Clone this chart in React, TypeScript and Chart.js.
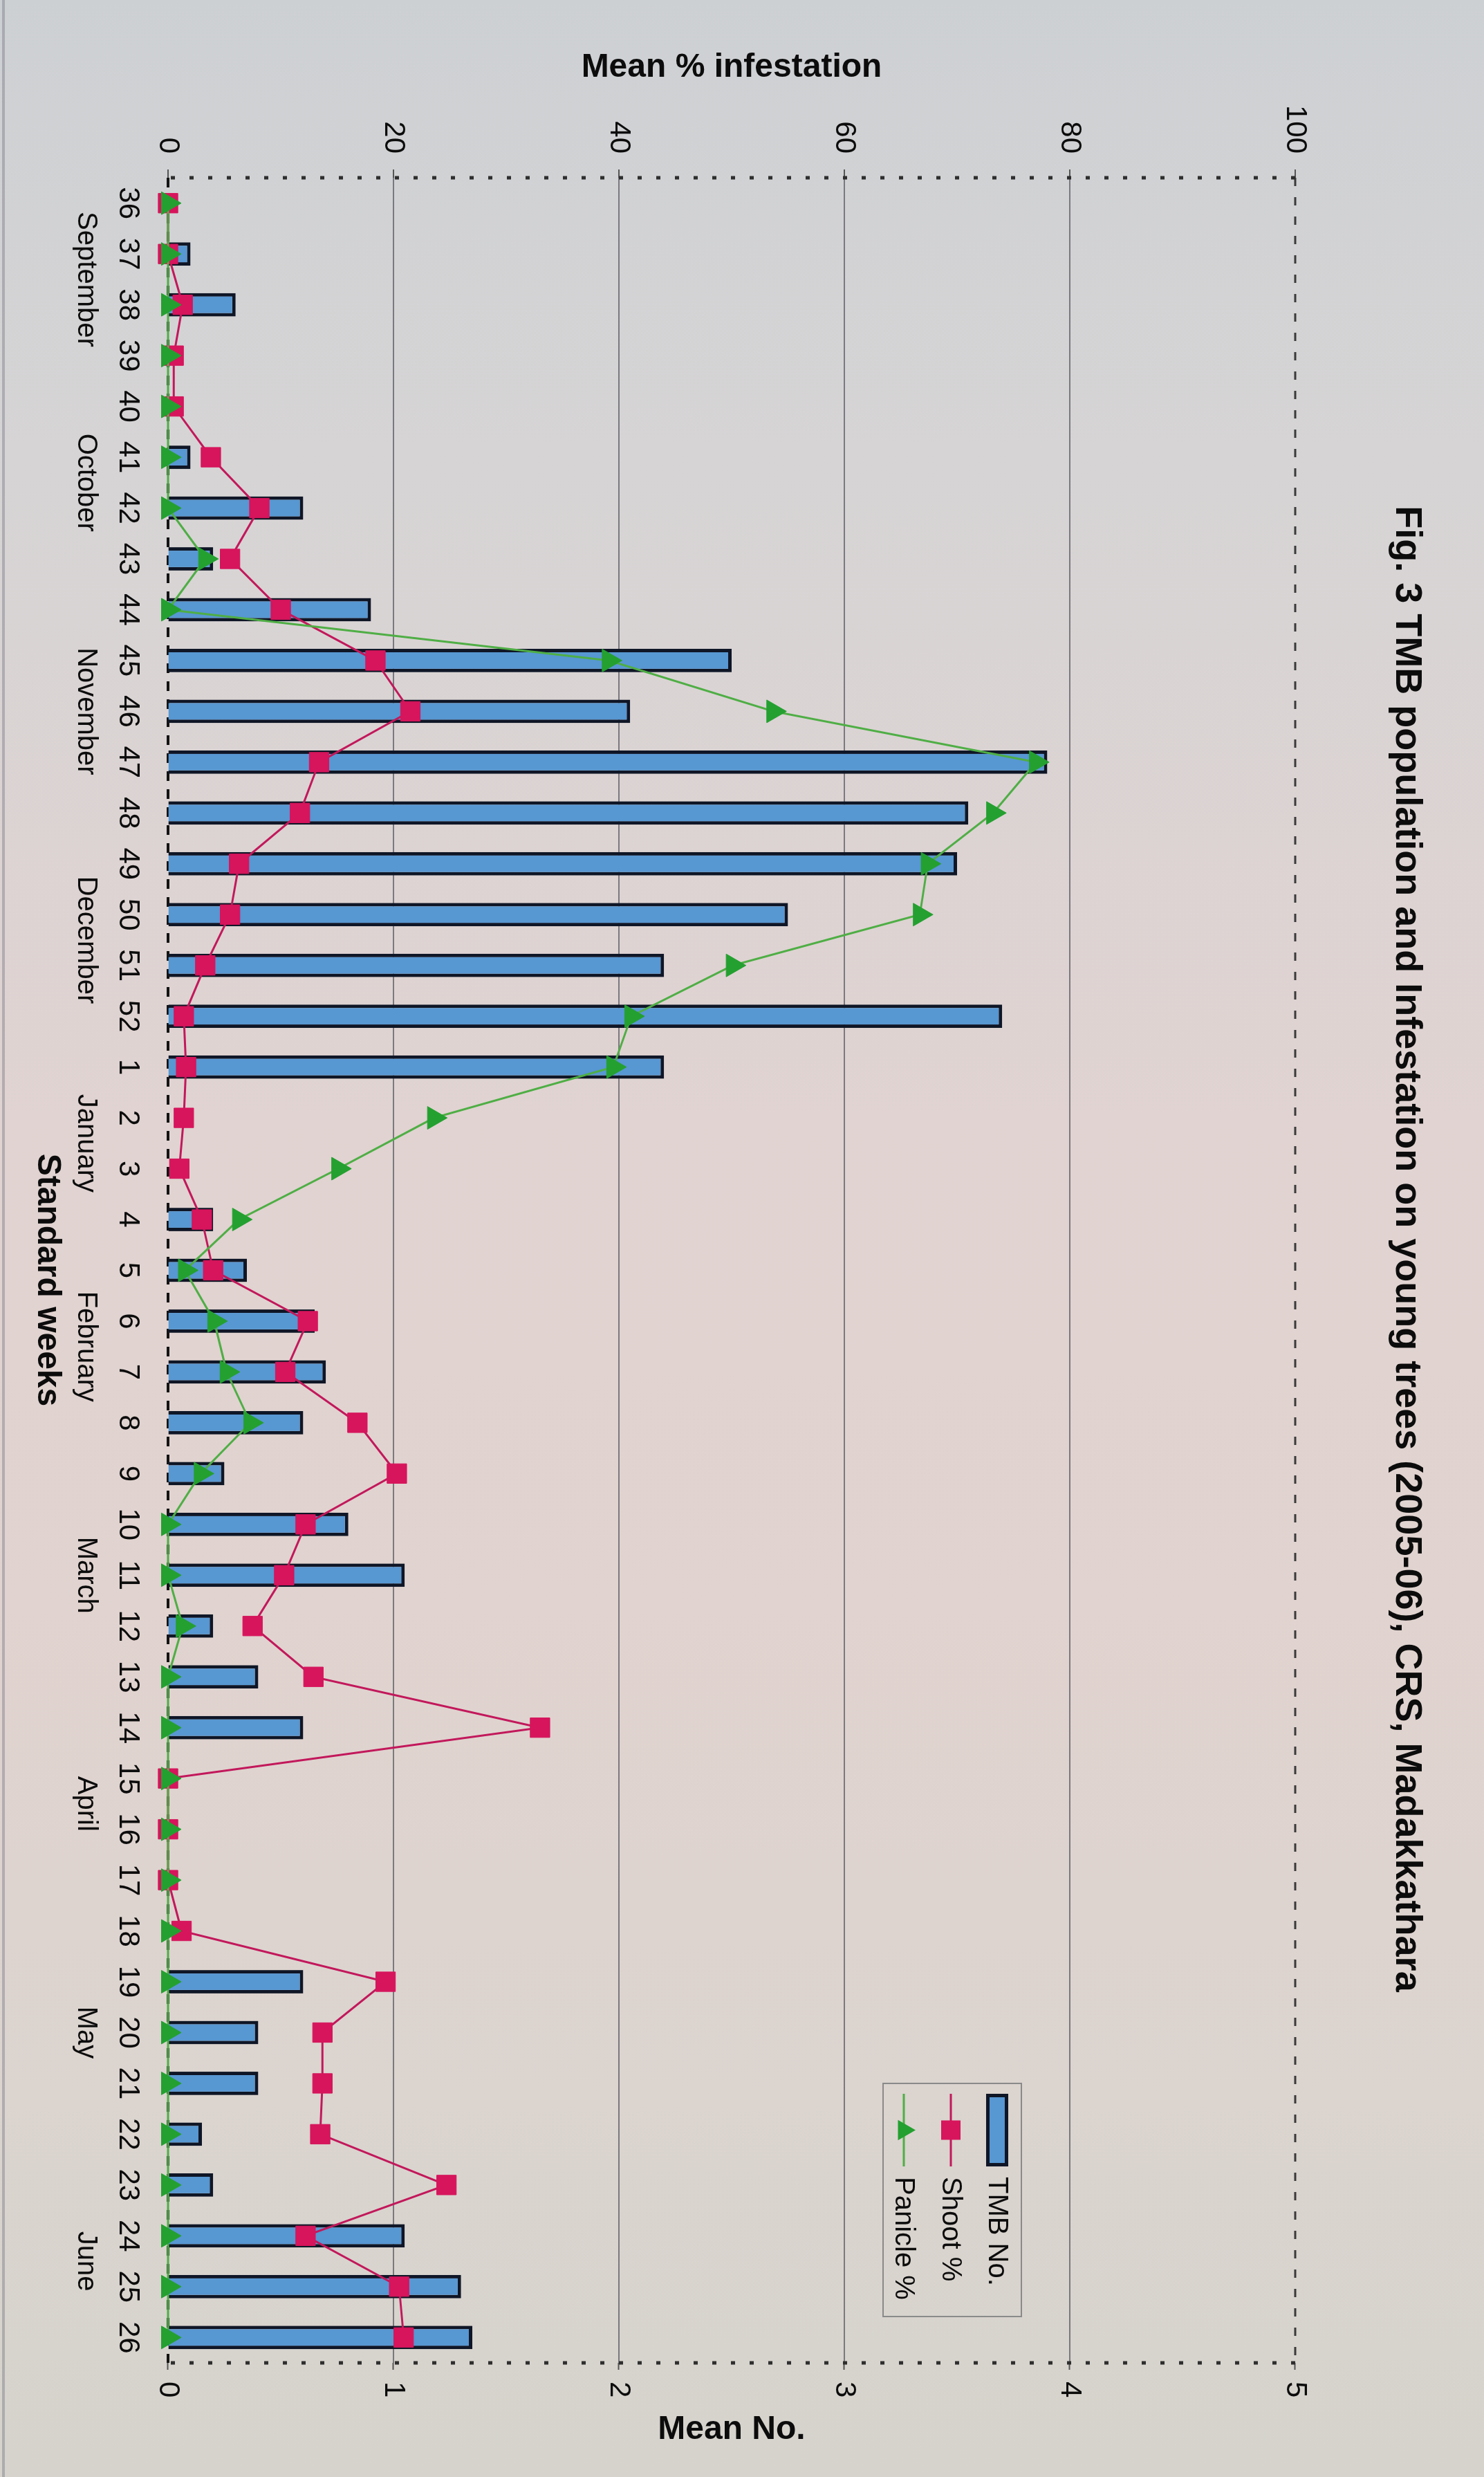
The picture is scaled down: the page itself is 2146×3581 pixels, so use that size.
import React, { useEffect, useRef } from 'react';
import { Chart, registerables } from 'chart.js';

Chart.register(...registerables);

// Printed page size; the chart itself is drawn landscape and turned a quarter turn onto it.
const PAGE_W = 2146;
const PAGE_H = 3581;

const TITLE = 'Fig. 3 TMB population and Infestation on young trees (2005-06), CRS, Madakkathara';
const X_TITLE = 'Standard weeks';
const PCT_TITLE = 'Mean % infestation';
const NO_TITLE = 'Mean No.';

const WEEKS = [
  '36', '37', '38', '39', '40', '41', '42', '43', '44', '45', '46', '47', '48', '49', '50', '51', '52',
  '1', '2', '3', '4', '5', '6', '7', '8', '9', '10', '11', '12', '13', '14', '15', '16', '17', '18',
  '19', '20', '21', '22', '23', '24', '25', '26',
];

// TMB population, mean number per tree
const TMB_NO = [
  0, 0.1, 0.3, 0, 0, 0.1, 0.6, 0.2, 0.9, 2.5, 2.05, 3.9, 3.55, 3.5, 2.75, 2.2, 3.7,
  2.2, 0, 0, 0.2, 0.35, 0.65, 0.7, 0.6, 0.25, 0.8, 1.05, 0.2, 0.4, 0.6, 0, 0, 0, 0,
  0.6, 0.4, 0.4, 0.15, 0.2, 1.05, 1.3, 1.35,
];

// Shoot infestation, mean %
const SHOOT_PCT = [
  0, 0, 1.3, 0.5, 0.5, 3.8, 8.1, 5.5, 10.0, 18.4, 21.5, 13.4, 11.7, 6.3, 5.5, 3.3, 1.4,
  1.6, 1.4, 1.0, 3.0, 4.0, 12.4, 10.4, 16.8, 20.3, 12.2, 10.3, 7.5, 12.9, 33.0, 0, 0, 0, 1.2,
  19.3, 13.7, 13.7, 13.5, 24.7, 12.2, 20.5, 20.9,
];

// Panicle infestation, mean %
const PANICLE_PCT = [
  0, 0, 0, 0, 0, 0, 0, 3.3, 0, 39.1, 53.7, 77.0, 73.2, 67.4, 66.7, 50.1, 41.1,
  39.5, 23.6, 15.1, 6.3, 1.5, 4.1, 5.2, 7.3, 2.9, 0, 0, 1.3, 0, 0, 0, 0, 0, 0,
  0, 0, 0, 0, 0, 0, 0, 0,
];

const MONTHS = ['September', 'October', 'November', 'December', 'January', 'February', 'March', 'April', 'May', 'June'];
const MONTH_FIRST_WEEK = ['36', '40', '44', '49', '1', '5', '9', '14', '18', '23'];
const MONTH_LAST_WEEK = ['39', '43', '48', '52', '4', '8', '13', '17', '22', '26'];

const PCT_MAX = 100;
const PCT_STEP = 20;
const NO_MAX = 5;
const NO_STEP = 1;

const FONT = '"Liberation Sans", Arial, Helvetica, sans-serif';
const INK = '#0c0c0c';
const GRID = 'rgba(105,105,112,0.85)';
const BAR_FILL = '#5797d2';
const BAR_EDGE = '#0f1626';
const SHOOT_LINE = '#c2185b';
const SHOOT_MARK = '#d6155c';
const PANICLE_LINE = '#4fae45';
const PANICLE_MARK = '#24a030';

function line(ctx: CanvasRenderingContext2D, x1: number, y1: number, x2: number, y2: number) {
  ctx.beginPath();
  ctx.moveTo(x1, y1);
  ctx.lineTo(x2, y2);
  ctx.stroke();
}

function turnedText(ctx: CanvasRenderingContext2D, text: string, x: number, y: number, font: string) {
  ctx.save();
  ctx.translate(x, y);
  ctx.rotate(-Math.PI / 2);
  ctx.font = font;
  ctx.fillStyle = INK;
  ctx.textAlign = 'center';
  ctx.textBaseline = 'middle';
  ctx.fillText(text, 0, 0);
  ctx.restore();
}

const frameAndLabels = {
  id: 'frameAndLabels',
  beforeDatasetsDraw(chart: any) {
    const { ctx, chartArea: a } = chart;
    ctx.save();
    // weeks axis baseline
    ctx.strokeStyle = '#141414';
    ctx.lineWidth = 4;
    ctx.setLineDash([14, 12]);
    line(ctx, a.left, a.bottom, a.right, a.bottom);
    // far edge of the plot area
    ctx.strokeStyle = '#3a3a3a';
    ctx.lineWidth = 3;
    ctx.setLineDash([12, 16]);
    line(ctx, a.left, a.top, a.right, a.top);
    // value-axis edges, dotted
    ctx.strokeStyle = '#2e2e2e';
    ctx.lineWidth = 5;
    ctx.setLineDash([6, 21]);
    line(ctx, a.left, a.top, a.left, a.bottom);
    line(ctx, a.right, a.top, a.right, a.bottom);
    ctx.restore();
  },
  afterDraw(chart: any) {
    const { ctx, chartArea: a, width } = chart;
    const xs = chart.scales.x;
    const midY = (a.top + a.bottom) / 2;
    ctx.save();

    // chart title
    ctx.font = `bold 54px ${FONT}`;
    ctx.fillStyle = INK;
    ctx.textAlign = 'center';
    ctx.textBaseline = 'middle';
    ctx.fillText(TITLE, width / 2 + 15, 112);

    // value axis titles
    turnedText(ctx, PCT_TITLE, 98, midY, `bold 48px ${FONT}`);
    turnedText(ctx, NO_TITLE, 3513, midY, `bold 48px ${FONT}`);

    // month row under the week numbers
    ctx.font = `40px ${FONT}`;
    ctx.fillStyle = INK;
    ctx.textAlign = 'center';
    ctx.textBaseline = 'middle';
    MONTHS.forEach((m, i) => {
      const p0 = xs.getPixelForValue(WEEKS.indexOf(MONTH_FIRST_WEEK[i]));
      const p1 = xs.getPixelForValue(WEEKS.indexOf(MONTH_LAST_WEEK[i]));
      ctx.fillText(m, (p0 + p1) / 2, 2022);
    });

    // category axis title
    ctx.font = `bold 48px ${FONT}`;
    ctx.fillText(X_TITLE, (a.left + a.right) / 2 + 14, 2078);

    // legend
    const bx = 3012;
    const by = 669;
    const bw = 337;
    const bh = 200;
    ctx.strokeStyle = '#8a8a8a';
    ctx.lineWidth = 2;
    ctx.setLineDash([]);
    ctx.strokeRect(bx, by, bw, bh);

    const sx0 = 3027;
    const sx1 = 3132;
    const sxm = (sx0 + sx1) / 2;
    const rows = [704, 771, 839];

    // TMB No. swatch
    ctx.fillStyle = BAR_EDGE;
    ctx.fillRect(sx0, rows[0] - 16, sx1 - sx0, 32);
    ctx.fillStyle = BAR_FILL;
    ctx.fillRect(sx0 + 5, rows[0] - 11, sx1 - sx0 - 10, 22);

    // Shoot % sample
    ctx.strokeStyle = SHOOT_LINE;
    ctx.lineWidth = 3;
    line(ctx, sx0, rows[1], sx1, rows[1]);
    ctx.fillStyle = SHOOT_MARK;
    ctx.fillRect(sxm - 14, rows[1] - 14, 28, 28);

    // Panicle % sample
    ctx.strokeStyle = PANICLE_LINE;
    line(ctx, sx0, rows[2], sx1, rows[2]);
    ctx.fillStyle = PANICLE_MARK;
    const r = 17;
    ctx.beginPath();
    ctx.moveTo(sxm, rows[2] - r);
    ctx.lineTo(sxm + r * Math.sin((2 * Math.PI) / 3), rows[2] - r * Math.cos((2 * Math.PI) / 3));
    ctx.lineTo(sxm + r * Math.sin((4 * Math.PI) / 3), rows[2] - r * Math.cos((4 * Math.PI) / 3));
    ctx.closePath();
    ctx.fill();

    ctx.font = `40px ${FONT}`;
    ctx.fillStyle = INK;
    ctx.textAlign = 'left';
    ctx.textBaseline = 'middle';
    const names = chart.data.datasets.map((d: any) => d.label);
    const order = ['TMB No.', 'Shoot %', 'Panicle %'];
    order.forEach((n, i) => {
      if (names.includes(n)) ctx.fillText(n, 3147, rows[i] + 1);
    });

    ctx.restore();
  },
};

export default function App() {
  const ref = useRef<HTMLCanvasElement | null>(null);

  useEffect(() => {
    const canvas = ref.current;
    if (!canvas) return;
    const tickFont = { family: FONT, size: 42 };
    const chart = new Chart(canvas, {
      type: 'bar',
      data: {
        labels: WEEKS,
        datasets: [
          {
            type: 'line',
            label: 'Panicle %',
            data: PANICLE_PCT,
            yAxisID: 'pct',
            order: 0,
            borderColor: PANICLE_LINE,
            backgroundColor: PANICLE_MARK,
            borderWidth: 3,
            pointStyle: 'triangle',
            pointRadius: 19,
            pointBorderWidth: 1,
            pointBorderColor: PANICLE_MARK,
            pointBackgroundColor: PANICLE_MARK,
            fill: false,
            tension: 0,
            clip: false,
          } as any,
          {
            type: 'line',
            label: 'Shoot %',
            data: SHOOT_PCT,
            yAxisID: 'pct',
            order: 1,
            borderColor: SHOOT_LINE,
            backgroundColor: SHOOT_MARK,
            borderWidth: 3,
            pointStyle: 'rect',
            pointRadius: 20,
            pointBorderWidth: 1,
            pointBorderColor: SHOOT_MARK,
            pointBackgroundColor: SHOOT_MARK,
            fill: false,
            tension: 0,
            clip: false,
          } as any,
          {
            type: 'bar',
            label: 'TMB No.',
            data: TMB_NO,
            yAxisID: 'no',
            order: 2,
            backgroundColor: BAR_FILL,
            borderColor: BAR_EDGE,
            borderWidth: 5,
            barPercentage: 0.46,
            categoryPercentage: 1,
          } as any,
        ],
      },
      options: {
        responsive: false,
        maintainAspectRatio: false,
        animation: false,
        devicePixelRatio: 1,
        events: [],
        layout: { padding: { top: 273, left: 0, right: 0, bottom: 0 } },
        plugins: {
          legend: { display: false },
          title: { display: false },
          tooltip: { enabled: false },
        },
        scales: {
          x: {
            type: 'category',
            offset: true,
            grid: { display: false, drawTicks: false },
            border: { display: false },
            ticks: {
              autoSkip: false,
              maxRotation: 0,
              minRotation: 0,
              padding: 33,
              color: INK,
              font: tickFont,
            },
            afterFit: (s: any) => {
              s.height = 243;
            },
          },
          pct: {
            type: 'linear',
            position: 'left',
            min: 0,
            max: PCT_MAX,
            ticks: { stepSize: PCT_STEP, padding: 23, color: INK, font: tickFont },
            grid: {
              color: (c: any) => (c.tick && (c.tick.value === 0 || c.tick.value === PCT_MAX) ? 'rgba(0,0,0,0)' : GRID),
              lineWidth: 2,
              drawTicks: true,
              tickLength: 12,
              tickColor: '#555',
              tickWidth: 2,
            },
            border: { display: false },
            afterFit: (s: any) => {
              s.width = 257;
            },
          },
          no: {
            type: 'linear',
            position: 'right',
            min: 0,
            max: NO_MAX,
            ticks: { stepSize: NO_STEP, padding: 17, color: INK, font: tickFont },
            grid: {
              drawOnChartArea: false,
              drawTicks: true,
              tickLength: 10,
              tickColor: '#555',
              tickWidth: 2,
            },
            border: { display: false },
            afterFit: (s: any) => {
              s.width = 165;
            },
          },
        },
      } as any,
      plugins: [frameAndLabels],
    });
    return () => chart.destroy();
  }, []);

  return (
    <div
      style={{
        position: 'absolute',
        left: 0,
        top: 0,
        width: PAGE_W,
        height: PAGE_H,
        overflow: 'hidden',
        background:
          'linear-gradient(to bottom, #cdd0d3 0%, #d6d4d5 18%, #e0d3d1 45%, #e1d3cf 65%, #dbd4cf 85%, #d5d3cc 100%)',
      }}
    >
      <div
        style={{
          position: 'absolute',
          left: 3,
          top: 0,
          width: 4,
          height: PAGE_H,
          background: 'rgba(125,125,135,0.45)',
        }}
      />
      <canvas
        ref={ref}
        width={PAGE_H}
        height={PAGE_W}
        style={{
          position: 'absolute',
          left: 0,
          top: 0,
          width: PAGE_H,
          height: PAGE_W,
          transformOrigin: '0 0',
          transform: `translateX(${PAGE_W}px) rotate(90deg)`,
        }}
      />
    </div>
  );
}
